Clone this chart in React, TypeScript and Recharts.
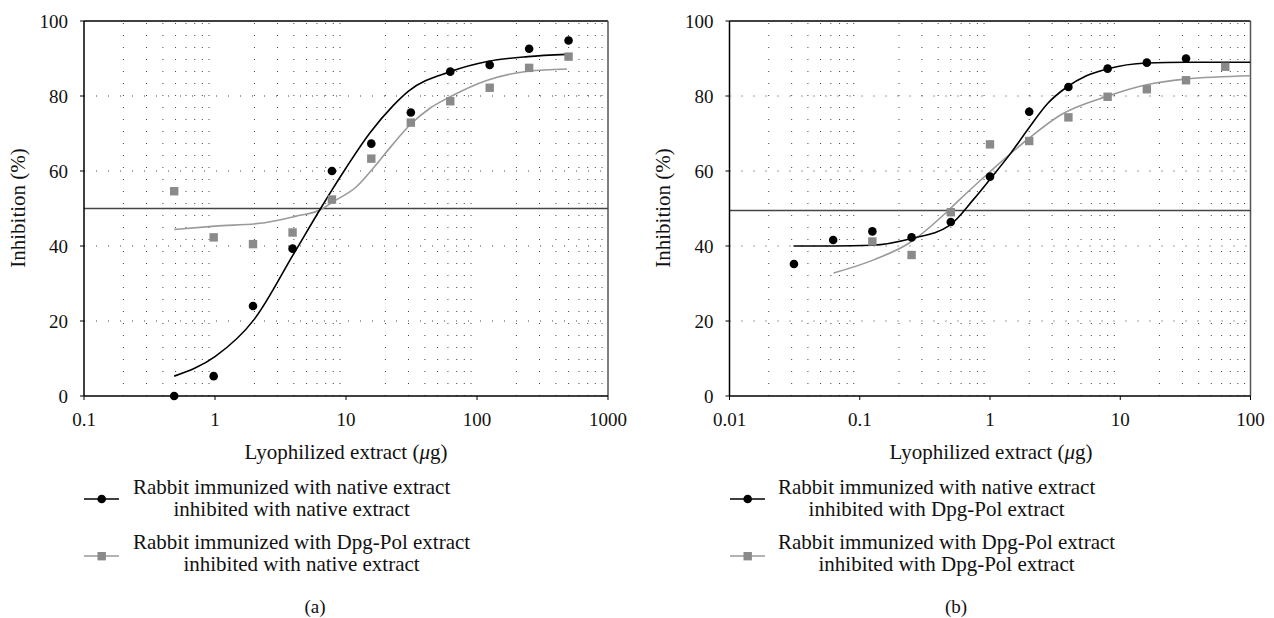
import React from 'react';
import { ComposedChart, Line, Scatter, XAxis, YAxis, ReferenceLine } from 'recharts';

const FONT = '"Liberation Serif", "Times New Roman", serif';

// ---- panel (a): measured points ----
const doseA = [0.488, 0.977, 1.95, 3.91, 7.81, 15.6, 31.25, 62.5, 125, 250, 500];
const nativeA = [0, 5.3, 24, 39.3, 60, 67.3, 75.6, 86.5, 88.3, 92.6, 94.8];
const dpgA = [54.6, 42.3, 40.5, 43.6, 52.4, 63.3, 72.9, 78.6, 82.2, 87.5, 90.5];

// ---- panel (a): fitted curves ----
const fitNativeAx = [0.488, 1, 2, 4, 6.4, 7.55, 10, 15.1, 23, 30, 62.5, 120, 244, 486];
const fitNativeAy = [5.3, 10.5, 20.5, 38, 50, 54.1, 60.8, 70, 77.5, 81.3, 86.5, 89.2, 90.5, 91.1];
const fitDpgAx = [0.488, 1, 2.4, 4.1, 6.5, 7.8, 12, 16, 22, 31, 44, 62.5, 120, 244, 486];
const fitDpgAy = [44.4, 45.3, 46.2, 47.9, 49.8, 51.6, 55.8, 60.6, 66.5, 72.4, 76.8, 79.8, 84.2, 86.6, 87.2];

// ---- panel (b): measured points ----
const doseB1 = [0.03125, 0.0625, 0.125, 0.25, 0.5, 1, 2, 4, 8, 16, 32];
const nativeB = [35.2, 41.6, 43.9, 42.3, 46.4, 58.5, 75.8, 82.4, 87.3, 88.9, 90];
const doseB2 = [0.125, 0.25, 0.5, 1, 2, 4, 8, 16, 32, 64];
const dpgB = [41.2, 37.6, 49, 67.1, 68, 74.3, 79.8, 81.8, 84.2, 87.8];

// ---- panel (b): fitted curves ----
const fitNativeBx = [0.031, 0.0625, 0.125, 0.25, 0.49, 0.75, 1, 1.44, 2, 2.77, 3.9, 5.5, 7.9, 15.9, 32, 100];
const fitNativeBy = [40, 40, 40.2, 42, 45.5, 52.5, 57.8, 64.7, 71.6, 78, 82.4, 85.4, 87.2, 88.8, 89, 89];
const fitDpgBx = [0.063, 0.128, 0.24, 0.47, 0.59, 1, 2, 3.5, 7.9, 15.9, 31.6, 100];
const fitDpgBy = [32.8, 36.3, 40.8, 49.2, 52.5, 59.8, 68.8, 75, 79.9, 83, 84.5, 85.4];

const yTicks = [0, 20, 40, 60, 80, 100];
const yGrid = [20, 40, 60, 80];
const xTicksA = [0.1, 1, 10, 100, 1000];
const xTicksB = [0.01, 0.1, 1, 10, 100];
const minorMult = [2, 3, 4, 5, 6, 7, 8, 9];

const pts = (xs: number[], ys: number[]) => xs.map((x, i) => ({ x, y: ys[i] }));

const Dot = (p: any) => <circle cx={p.cx} cy={p.cy} r={4.3} fill="#000" />;
const Sq = (p: any) => <rect x={p.cx - 4.2} y={p.cy - 4.2} width={8.4} height={8.4} fill="#8a8a8a" />;

function Panel(props: any) {
  const { left, marginLeft, marginRight, xTicks, refY, native, dpg, fitNative, fitDpg } = props;
  const minor: number[] = [];
  xTicks.slice(0, -1).forEach((d: number) => minorMult.forEach((m) => minor.push(+(d * m).toPrecision(3))));
  return (
    <div style={{ position: 'absolute', left, top: 0 }}>
      <ComposedChart width={637} height={618} margin={{ top: 21, right: marginRight, left: marginLeft, bottom: 192 }}>
        <XAxis
          dataKey="x" type="number" scale="log" domain={[xTicks[0], xTicks[xTicks.length - 1]]}
          ticks={xTicks} allowDataOverflow height={30} tickSize={4} tickMargin={13}
          tickFormatter={(v: number) => String(v)}
          axisLine={{ stroke: '#000', strokeWidth: 1.5 }} tickLine={{ stroke: '#000' }}
          tick={{ fontFamily: FONT, fontSize: 19, fill: '#111' }}
        />
        <YAxis
          dataKey="y" type="number" domain={[0, 100]} ticks={yTicks} width={44} tickSize={4} tickMargin={12}
          axisLine={{ stroke: '#000', strokeWidth: 1.5 }} tickLine={{ stroke: '#000' }}
          tick={{ fontFamily: FONT, fontSize: 19, fill: '#111' }}
        />
        {minor.map((v) => (
          <ReferenceLine key={'v' + v} x={v} stroke="#444" strokeDasharray="1 11" />
        ))}
        {yGrid.map((v) => (
          <ReferenceLine key={'h' + v} y={v} stroke="#444" strokeDasharray="1 11" />
        ))}
        <ReferenceLine y={100} stroke="#000" strokeWidth={1.5} />
        <ReferenceLine x={xTicks[xTicks.length - 1]} stroke="#555" strokeWidth={1.5} />
        <ReferenceLine y={refY} stroke="#444" strokeWidth={1.5} />
        <Line data={fitDpg} dataKey="y" type="monotone" stroke="#9a9a9a" strokeWidth={1.6} dot={false} isAnimationActive={false} />
        <Line data={fitNative} dataKey="y" type="monotone" stroke="#000" strokeWidth={1.6} dot={false} isAnimationActive={false} />
        <Scatter data={dpg} dataKey="y" shape={Sq} isAnimationActive={false} />
        <Scatter data={native} dataKey="y" shape={Dot} isAnimationActive={false} />
      </ComposedChart>
    </div>
  );
}

function LegendItem({ x, y, textLeft, top, lines, square }: any) {
  return (
    <>
      <svg style={{ position: 'absolute', left: x, top: y - 6 }} width={36} height={12}>
        <line x1={0} y1={6} x2={35} y2={6} stroke={square ? '#9a9a9a' : '#000'} strokeWidth={1.6} />
        {square ? <rect x={13.5} y={2} width={8.4} height={8.4} fill="#8a8a8a" /> : <circle cx={17.7} cy={6} r={4.3} fill="#000" />}
      </svg>
      <div style={{ position: 'absolute', left: textLeft, top, textAlign: 'center', fontSize: 21, lineHeight: '22px', whiteSpace: 'nowrap', color: '#111' }}>
        {lines[0]}
        <br />
        {lines[1]}
      </div>
    </>
  );
}

const centered = (x: number, y: number, extra: any = {}) => ({
  position: 'absolute' as const, left: x, top: y, transform: 'translate(-50%, -50%)', whiteSpace: 'nowrap' as const, fontSize: 21, color: '#111', ...extra,
});

export default function App() {
  return (
    <div style={{ position: 'absolute', left: 0, top: 0, width: 1274, height: 618, background: '#fff', fontFamily: FONT, overflow: 'hidden' }}>
      <Panel
        left={0} marginLeft={40} marginRight={29} xTicks={xTicksA} refY={50}
        native={pts(doseA, nativeA)} dpg={pts(doseA, dpgA)}
        fitNative={pts(fitNativeAx, fitNativeAy)} fitDpg={pts(fitDpgAx, fitDpgAy)}
      />
      <Panel
        left={637} marginLeft={48.5} marginRight={23.5} xTicks={xTicksB} refY={49.5}
        native={pts(doseB1, nativeB)} dpg={pts(doseB2, dpgB)}
        fitNative={pts(fitNativeBx, fitNativeBy)} fitDpg={pts(fitDpgBx, fitDpgBy)}
      />

      <div style={centered(18, 208, { transform: 'translate(-50%, -50%) rotate(-90deg)' })}>Inhibition (%)</div>
      <div style={centered(663, 208, { transform: 'translate(-50%, -50%) rotate(-90deg)' })}>Inhibition (%)</div>

      <div style={centered(346, 452)}>Lyophilized extract (<i>μ</i>g)</div>
      <div style={centered(991, 452)}>Lyophilized extract (<i>μ</i>g)</div>

      <LegendItem x={84} y={499} textLeft={133} top={476}
        lines={['Rabbit immunized with native extract', 'inhibited with native extract']} />
      <LegendItem x={84} y={556} textLeft={133} top={531} square
        lines={['Rabbit immunized with Dpg-Pol extract', 'inhibited with native extract']} />
      <LegendItem x={730} y={499} textLeft={778} top={476}
        lines={['Rabbit immunized with native extract', 'inhibited with Dpg-Pol extract']} />
      <LegendItem x={730} y={556} textLeft={778} top={531} square
        lines={['Rabbit immunized with Dpg-Pol extract', 'inhibited with Dpg-Pol extract']} />

      <div style={centered(315, 607, { fontSize: 19 })}>(a)</div>
      <div style={centered(956, 607, { fontSize: 19 })}>(b)</div>
    </div>
  );
}
